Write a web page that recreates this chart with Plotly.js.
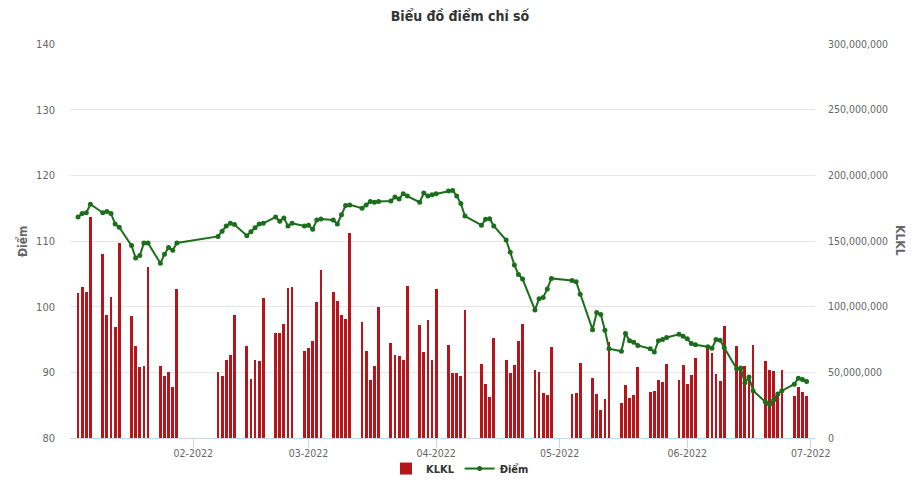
<!DOCTYPE html>
<html>
<head>
<meta charset="utf-8">
<script src="https://cdn.plot.ly/plotly-3.0.1.min.js"></script>
<style>
  html, body { margin: 0; padding: 0; background: #ffffff; }
  #chart { width: 920px; height: 482px; }
</style>
</head>
<body>
<div id="chart"></div>
<script>
// ---- data ----
const dates = [
  "2022-01-04","2022-01-05","2022-01-06","2022-01-07",
  "2022-01-10","2022-01-11","2022-01-12","2022-01-13","2022-01-14",
  "2022-01-17","2022-01-18","2022-01-19","2022-01-20","2022-01-21",
  "2022-01-24","2022-01-25","2022-01-26","2022-01-27","2022-01-28",
  "2022-02-07","2022-02-08","2022-02-09","2022-02-10","2022-02-11",
  "2022-02-14","2022-02-15","2022-02-16","2022-02-17","2022-02-18",
  "2022-02-21","2022-02-22","2022-02-23","2022-02-24","2022-02-25",
  "2022-02-28","2022-03-01","2022-03-02","2022-03-03","2022-03-04",
  "2022-03-07","2022-03-08","2022-03-09","2022-03-10","2022-03-11",
  "2022-03-14","2022-03-15","2022-03-16","2022-03-17","2022-03-18",
  "2022-03-21","2022-03-22","2022-03-23","2022-03-24","2022-03-25",
  "2022-03-28","2022-03-29","2022-03-30","2022-03-31","2022-04-01",
  "2022-04-04","2022-04-05","2022-04-06","2022-04-07","2022-04-08",
  "2022-04-12","2022-04-13","2022-04-14","2022-04-15",
  "2022-04-18","2022-04-19","2022-04-20","2022-04-21","2022-04-22",
  "2022-04-25","2022-04-26","2022-04-27","2022-04-28","2022-04-29",
  "2022-05-04","2022-05-05","2022-05-06",
  "2022-05-09","2022-05-10","2022-05-11","2022-05-12","2022-05-13",
  "2022-05-16","2022-05-17","2022-05-18","2022-05-19","2022-05-20",
  "2022-05-23","2022-05-24","2022-05-25","2022-05-26","2022-05-27",
  "2022-05-30","2022-05-31","2022-06-01","2022-06-02","2022-06-03",
  "2022-06-06","2022-06-07","2022-06-08","2022-06-09","2022-06-10",
  "2022-06-13","2022-06-14","2022-06-15","2022-06-16","2022-06-17",
  "2022-06-20","2022-06-21","2022-06-22","2022-06-23","2022-06-24",
  "2022-06-27","2022-06-28","2022-06-29","2022-06-30"
];

// KLKL (millions of shares)
const klklMillions = [
  110.4,115.0,111.2,168.3,
  140.1,93.7,107.4,84.5,148.5,
  92.9,70.1,54.1,54.8,130.2,
  54.8,47.2,50.3,38.8,113.5,
  50.3,47.2,59.4,63.2,93.7,
  70.1,44.9,59.4,58.6,106.6,
  80.0,80.0,86.8,114.2,115.0,
  66.2,68.5,73.9,103.6,127.9,
  111.2,104.3,93.7,90.6,156.1,
  88.3,66.2,44.2,54.8,99.7,
  72.3,63.2,62.4,59.4,115.7,
  86.0,65.5,89.9,59.4,113.5,
  70.8,49.5,49.5,47.2,97.5,
  56.3,41.1,31.2,76.1,
  59.4,49.5,55.6,73.9,86.8,
  51.8,50.3,34.3,32.7,69.3,
  33.5,34.3,57.1,
  45.7,33.5,21.3,29.7,73.1,
  26.7,40.4,30.5,32.7,54.1,
  35.0,35.8,44.2,42.6,56.3,
  44.2,55.6,41.1,48.0,60.9,
  70.1,64.7,48.7,43.4,85.3,
  70.1,54.8,54.8,47.2,70.8,
  58.6,51.8,51.0,32.7,51.8,
  32.0,38.8,35.0,32.0
];

// Điểm
const diem = [
  113.65,114.2,114.3,115.6,
  114.3,114.5,114.2,112.6,112.1,
  109.3,107.4,107.8,109.7,109.7,
  106.6,108.0,109.0,108.6,109.7,
  110.7,111.5,112.3,112.7,112.5,
  110.8,111.4,112.0,112.6,112.7,
  113.65,113.0,113.5,112.3,112.7,
  112.3,112.4,111.8,113.2,113.35,
  113.2,112.6,114.0,115.4,115.5,
  115.0,115.5,116.0,115.9,116.0,
  116.1,116.7,116.4,117.2,116.85,
  115.9,117.3,116.85,117.05,117.2,
  117.6,117.7,116.85,115.7,113.8,
  112.4,113.3,113.4,112.3,
  110.15,108.3,106.35,104.9,104.2,
  99.5,101.2,101.4,102.7,104.3,
  104.0,103.8,101.9,
  96.5,99.1,98.8,96.4,93.6,
  93.2,95.9,94.8,94.6,94.1,
  93.6,93.1,94.8,95.0,95.3,
  95.8,95.5,95.1,94.4,94.2,
  93.9,93.65,95.0,94.9,93.75,
  90.55,90.66,88.4,89.3,87.2,
  85.5,85.1,85.8,86.7,87.2,
  88.2,89.1,88.9,88.6
];

const monthTicks = ["2022-02-01","2022-03-01","2022-04-01","2022-05-01","2022-06-01","2022-07-01"];
const monthLabels = ["02-2022","03-2022","04-2022","05-2022","06-2022","07-2022"];
const diemTicks = [80, 90, 100, 110, 120, 130, 140];
const klklTicks = [0, 50e6, 100e6, 150e6, 200e6, 250e6, 300e6];

const klkl = klklMillions.map(v => v * 1e6);

const FONT = "'Liberation Sans Narrow', 'DejaVu Sans Condensed', sans-serif";

const traces = [
  {
    type: "bar",
    name: "KLKL",
    x: dates,
    y: klkl,
    yaxis: "y",
    width: 0.68 * 86400000,
    marker: { color: "#b8141b" },
    hoverinfo: "x+y"
  },
  {
    type: "scatter",
    mode: "lines+markers",
    name: "Điểm",
    x: dates,
    y: diem,
    yaxis: "y2",
    line: { color: "#1b6e1b", width: 2 },
    marker: { color: "#1b6e1b", size: 5 }
  }
];

const layout = {
  width: 920,
  height: 482,
  paper_bgcolor: "#ffffff",
  plot_bgcolor: "#ffffff",
  margin: { l: 70, r: 105, t: 44, b: 44, autoexpand: false },
  font: { family: FONT, size: 11, color: "#666666" },
  title: {
    text: "<b>Biểu đồ điểm chỉ số</b>",
    x: 0.5, xanchor: "center",
    y: 0.966, yanchor: "middle",
    font: { family: FONT, size: 14, color: "#333333" }
  },
  showlegend: true,
  legend: {
    orientation: "h",
    xref: "container", yref: "container",
    x: 0.5, xanchor: "center",
    y: 0.058, yanchor: "top",
    bgcolor: "rgba(0,0,0,0)",
    font: { family: FONT, size: 11, color: "#333333", weight: "bold" },
    itemwidth: 30,
    traceorder: "normal"
  },
  bargap: 0,
  xaxis: {
    type: "date",
    range: ["2022-01-02 01:00", "2022-07-02 01:00"],
    tickmode: "array",
    tickvals: monthTicks,
    ticktext: monthLabels,
    ticks: "outside",
    ticklen: 9,
    tickcolor: "#ccd6eb",
    showline: true,
    linecolor: "#ccd6eb",
    linewidth: 1,
    showgrid: false,
    zeroline: false,
    ticklabelstandoff: -4,
    tickfont: { family: FONT, size: 10.5, color: "#666666" }
  },
  yaxis: {
    side: "right",
    range: [0, 300e6],
    tickmode: "array",
    tickvals: klklTicks,
    tickformat: ",d",
    showgrid: true,
    gridcolor: "#e6e6e6",
    gridwidth: 1,
    zeroline: false,
    showline: false,
    ticks: "",
    ticklabelstandoff: 12,
    tickfont: { family: FONT, size: 10.5, color: "#666666" }
  },
  yaxis2: {
    overlaying: "y",
    side: "left",
    range: [80, 140],
    tickmode: "array",
    tickvals: diemTicks,
    showgrid: false,
    zeroline: false,
    showline: false,
    ticks: "",
    ticklabelstandoff: 14,
    tickfont: { family: FONT, size: 11, color: "#666666" }
  },
  annotations: [
    {
      text: "<b>Điểm</b>",
      xref: "paper", yref: "paper",
      x: -0.0645, y: 0.5,
      xanchor: "center", yanchor: "middle",
      textangle: -90,
      showarrow: false,
      font: { family: FONT, size: 12, color: "#666666" }
    },
    {
      text: "<b>KLKL</b>",
      xref: "paper", yref: "paper",
      x: 1.114, y: 0.5,
      xanchor: "center", yanchor: "middle",
      textangle: 90,
      showarrow: false,
      font: { family: FONT, size: 12, color: "#666666" }
    }
  ]
};

Plotly.newPlot("chart", traces, layout, { displayModeBar: false, staticPlot: true });
</script>
</body>
</html>
